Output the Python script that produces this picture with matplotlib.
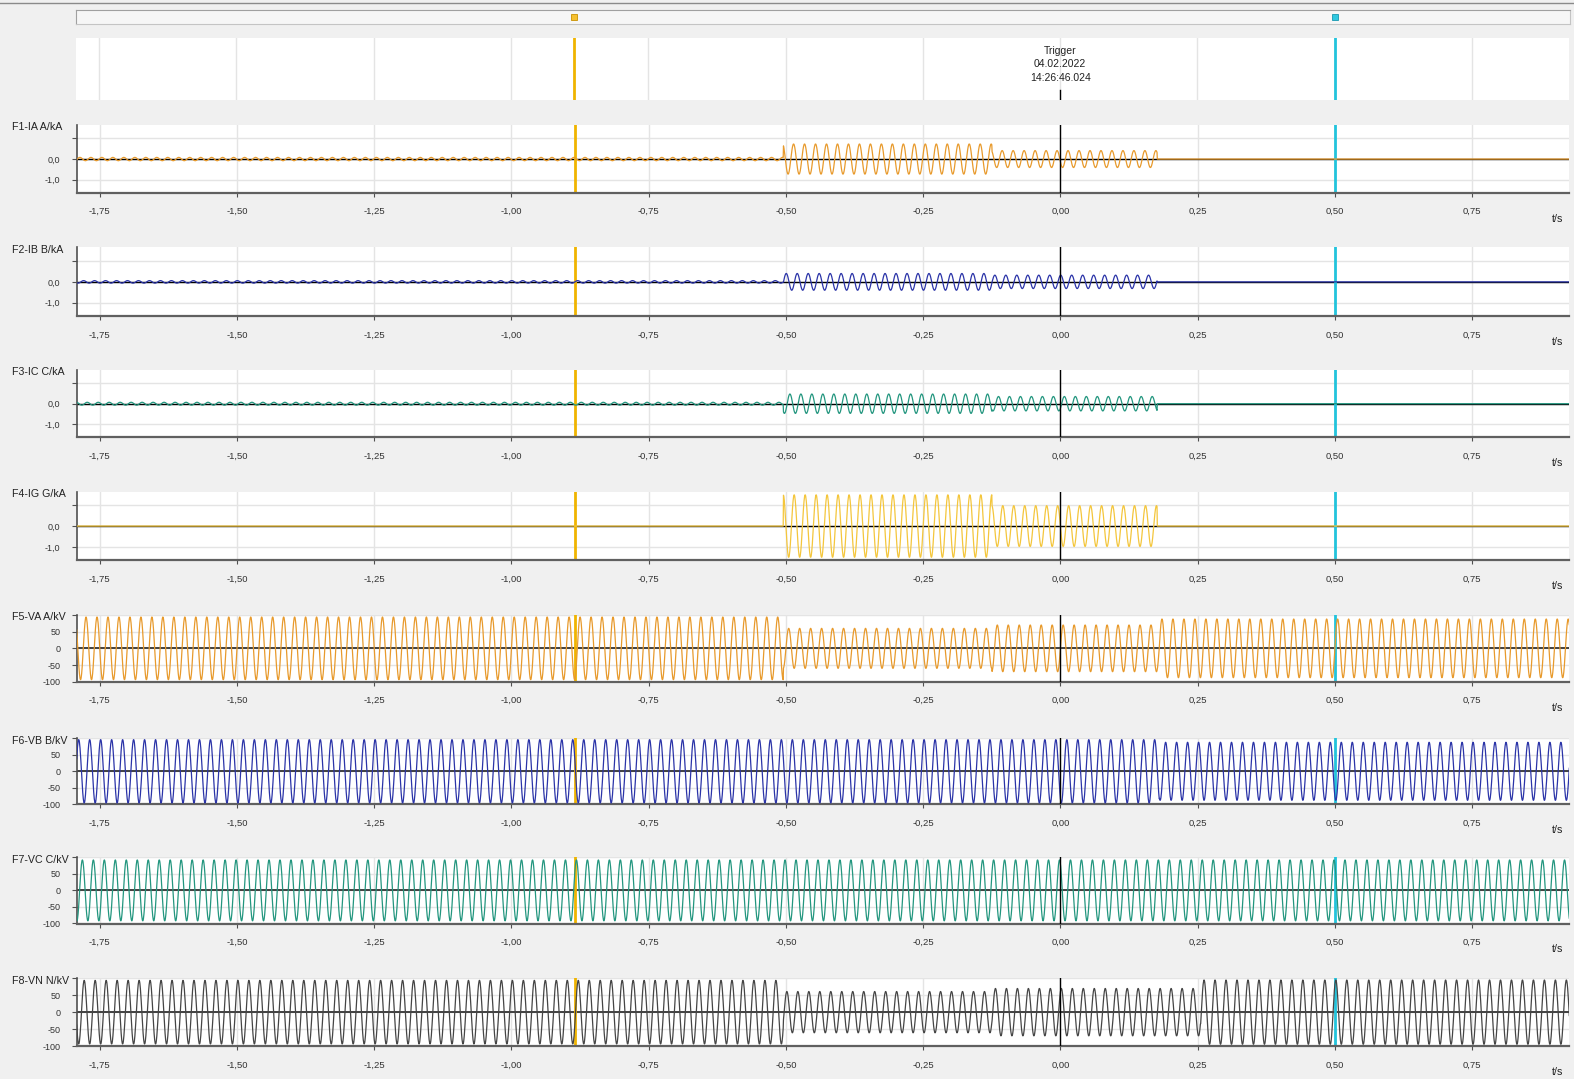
import numpy as np
import matplotlib
matplotlib.use('Agg')
import matplotlib.pyplot as plt
from matplotlib.lines import Line2D

W, H = 1574, 1079

# record time range (s), nominal frequency and cursors
t_start, t_end = -1.792, 0.927
freq = 50.0
fs = 2000.0
cursor_1 = -0.885
cursor_2 = 0.50
trigger_text = 'Trigger\n04.02.2022\n14:26:46.024'

x_ticks = [-1.75, -1.50, -1.25, -1.00, -0.75, -0.50, -0.25, 0.00, 0.25, 0.50, 0.75]

names = ['F1-IA A/kA', 'F2-IB B/kA', 'F3-IC C/kA', 'F4-IG G/kA',
         'F5-VA A/kV', 'F6-VB B/kV', 'F7-VC C/kV', 'F8-VN N/kV']

# segment edges (s) and peak value of each segment
ia_edges = [t_start, -0.505, -0.125, 0.176]
ia_peaks = [0.08, 0.73, 0.41]
ib_edges = [t_start, -0.505, -0.125, 0.176]
ib_peaks = [0.06, 0.40, 0.32]
ic_edges = [t_start, -0.505, -0.125, 0.176]
ic_peaks = [0.07, 0.47, 0.35]
ig_edges = [t_start, -0.505, -0.125, 0.176]
ig_peaks = [0.0, 1.50, 0.98]
va_edges = [t_start, -0.505, -0.125, 0.18, t_end]
va_peaks = [94, 60, 70, 88]
vb_edges = [t_start, 0.18, t_end]
vb_peaks = [96, 88]
vc_edges = [t_start, t_end]
vc_peaks = [92]
vn_edges = [t_start, -0.505, -0.125, 0.255, t_end]
vn_peaks = [94, 61, 70, 95]

edges = [ia_edges, ib_edges, ic_edges, ig_edges, va_edges, vb_edges, vc_edges, vn_edges]
peaks = [ia_peaks, ib_peaks, ic_peaks, ig_peaks, va_peaks, vb_peaks, vc_peaks, vn_peaks]
phases = [200, 80, -40, 180, 0, -120, 120, 60]

colors = ['#e89a2c', '#2b34a8', '#23967f', '#f4c63c',
          '#e89a2c', '#2b34a8', '#23967f', '#454545']

# panel top / bottom in pixels
tops = [125, 247.3, 369.7, 491.7, 615, 738.3, 857.3, 978.3]
bottoms = [192.7, 316, 437.3, 560, 681.7, 804.3, 923.5, 1046]
left_px, right_px = 76.7, 1569.3


def box(l, t, r, b):
    return [l / W, 1 - b / H, (r - l) / W, (b - t) / H]


def trace(edge, peak, phase):
    t = np.arange(t_start, t_end, 1 / fs)
    y = np.zeros_like(t)
    for a, b, p in zip(edge[:-1], edge[1:], peak):
        m = (t >= a) & (t < b)
        y[m] = p * np.sin(2 * np.pi * freq * t[m] + np.radians(phase))
    return t, y


plt.rcParams['font.family'] = ['Liberation Sans', 'DejaVu Sans']
fig = plt.figure(figsize=(W / 100, H / 100), dpi=100, facecolor='#f0f0f0')

# top border line
fig.add_artist(Line2D([0, 1], [1 - 3.3 / H] * 2, color='#8a8a8a', lw=1))

# scroll bar with cursor markers
ax_s = fig.add_axes(box(76, 10, 1570, 24))
ax_s.set_facecolor('#f6f6f6')
ax_s.set_xlim(t_start, t_end)
ax_s.set_ylim(0, 1)
for s in ax_s.spines.values():
    s.set_color('#c4c4c4')
ax_s.spines['top'].set_color('#a0a0a0')
ax_s.spines['left'].set_color('#a0a0a0')
ax_s.set_xticks([])
ax_s.set_yticks([])
ax_s.plot([cursor_1], [0.5], marker='s', ms=5, mfc='#f5c030', mec='#c89000', mew=0.6)
ax_s.plot([cursor_2], [0.5], marker='s', ms=5, mfc='#30c8e0', mec='#1898b0', mew=0.6)

# trigger panel
ax_t = fig.add_axes(box(76, 37.7, 1569.3, 100))
ax_t.set_facecolor('white')
ax_t.set_xlim(t_start, t_end)
ax_t.set_ylim(0, 1)
for s in ax_t.spines.values():
    s.set_visible(False)
ax_t.set_xticks(x_ticks)
ax_t.set_yticks([])
ax_t.tick_params(length=0, labelbottom=False)
ax_t.grid(True, axis='x', color='#e4e4e4', lw=1)
ax_t.axvline(cursor_1, color='#f0b400', lw=2)
ax_t.axvline(cursor_2, color='#22c4dc', lw=2)
ax_t.axvline(0, ymin=0, ymax=0.16, color='black', lw=1)
ax_t.text(0, 0.57, trigger_text, ha='center', va='center', fontsize=7.5,
          linespacing=1.45, color='#222222')

for i in range(8):
    ax = fig.add_axes(box(left_px, tops[i], right_px, bottoms[i]))
    ax.set_facecolor('white')
    t, y = trace(edges[i], peaks[i], phases[i])
    ax.plot(t, y, color=colors[i], lw=0.9, zorder=3)
    ax.set_xlim(t_start, t_end)
    if i < 4:
        ax.set_ylim(-1.63, 1.65)
        ax.set_yticks([-1, 0, 1])
        ax.set_yticklabels(['-1,0', '0,0', ''])
        ax.axhline(0, color='black', lw=1, zorder=2)
    else:
        ax.set_ylim(-100, 100)
        ax.set_yticks([-100, -50, 0, 50, 100])
        ax.set_yticklabels(['-100', '-50', '0', '50', ''])
        ax.axhline(0, color='#333333', lw=1.3, zorder=2)
    ax.set_xticks(x_ticks)
    ax.set_xticklabels([f'{v:.2f}'.replace('.', ',') for v in x_ticks])
    ax.grid(True, color='#e4e4e4', lw=1)
    ax.set_axisbelow(True)
    ax.axvline(cursor_1, color='#f0b400', lw=2, zorder=2.5)
    ax.axvline(cursor_2, color='#22c4dc', lw=2, zorder=2.5)
    ax.axvline(0, color='black', lw=1, zorder=4)
    ax.spines['top'].set_visible(False)
    ax.spines['right'].set_visible(False)
    ax.spines['left'].set_color('#505050')
    ax.spines['bottom'].set_color('#606060')
    ax.spines['left'].set_linewidth(1.2)
    ax.spines['bottom'].set_linewidth(1.6)
    ax.tick_params(axis='x', labelsize=6.8, length=3, pad=7.5, color='#505050', labelcolor='#333333')
    ax.tick_params(axis='y', labelsize=6.5, length=3.6, pad=8, color='#505050', labelcolor='#333333')

    fig.text(12 / W, 1 - (tops[i] + 2.5) / H, names[i], ha='left', va='center',
             fontsize=7.7, color='#222222')
    fig.text(1563 / W, 1 - (bottoms[i] + 26) / H, 't/s', ha='right', va='center',
             fontsize=7.7, color='#222222')

fig.savefig('out.png', dpi=100, facecolor=fig.get_facecolor())
